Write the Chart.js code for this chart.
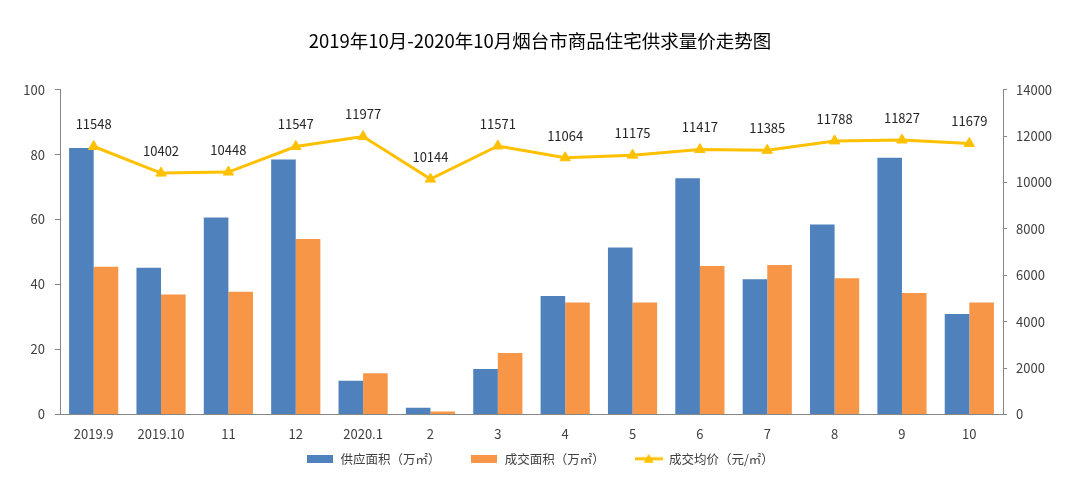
<!DOCTYPE html>
<html><head><meta charset="utf-8">
<script src="https://cdn.jsdelivr.net/npm/chart.js@4"></script>
<style>html,body{margin:0;padding:0;background:#fff}</style>
</head>
<body>
<canvas id="c" width="1080" height="491"></canvas>
<script>
const categories = ['2019.9','2019.10','11','12','2020.1','2','3','4','5','6','7','8','9','10'];
const supplyArea = [82.0,45.2,60.6,78.5,10.4,2.1,14.0,36.5,51.4,72.7,41.6,58.5,79.0,30.9];
const dealArea   = [45.5,36.9,37.8,54.0,12.7,0.9,18.9,34.5,34.5,45.7,46.0,41.9,37.4,34.5];
const avgPrice   = [11548,10402,10448,11547,11977,10144,11571,11064,11175,11417,11385,11788,11827,11679];
const seriesNames = ['供应面积（万㎡）','成交面积（万㎡）','成交均价（元/㎡）'];
const titleText = '2019年10月-2020年10月烟台市商品住宅供求量价走势图';

const FONT = '"Noto Sans CJK SC", "Noto Sans", sans-serif';
const BLUE = '#4F81BD', ORANGE = '#F79646', GOLD = '#FFC000', AXIS = '#868686', TXT = '#404040';

function rectImg(color){
  const c = document.createElement('canvas'); c.width = 26; c.height = 8;
  const x = c.getContext('2d'); x.fillStyle = color; x.fillRect(0,0,26,8); return c;
}
function lineImg(color){
  const c = document.createElement('canvas'); c.width = 28; c.height = 12;
  const x = c.getContext('2d');
  x.strokeStyle = color; x.lineWidth = 3; x.beginPath(); x.moveTo(0,6); x.lineTo(28,6); x.stroke();
  x.fillStyle = color; x.beginPath(); x.moveTo(14,1); x.lineTo(19,10); x.lineTo(9,10); x.closePath(); x.fill();
  return c;
}
const legendImgs = [rectImg(BLUE), rectImg(ORANGE), lineImg(GOLD)];

const dataLabels = {
  id: 'dataLabels',
  afterDatasetsDraw(chart){
    const meta = chart.getDatasetMeta(2);
    const ctx = chart.ctx;
    ctx.save();
    ctx.font = '13px ' + FONT;
    ctx.fillStyle = '#262626';
    ctx.textAlign = 'center';
    ctx.textBaseline = 'middle';
    meta.data.forEach((pt, i) => {
      ctx.fillText(String(avgPrice[i]), pt.x, pt.y - 22);
    });
    ctx.restore();
  }
};

new Chart(document.getElementById('c'), {
  type: 'bar',
  data: {
    labels: categories,
    datasets: [
      {label: seriesNames[0], data: supplyArea, backgroundColor: BLUE, yAxisID: 'y', order: 2,
       categoryPercentage: 0.73, barPercentage: 1.0},
      {label: seriesNames[1], data: dealArea, backgroundColor: ORANGE, yAxisID: 'y', order: 2,
       categoryPercentage: 0.73, barPercentage: 1.0},
      {type: 'line', label: seriesNames[2], data: avgPrice, yAxisID: 'y1', order: 0,
       borderColor: GOLD, backgroundColor: GOLD, borderWidth: 3, pointStyle: 'triangle',
       pointRadius: 6, pointHoverRadius: 6, pointBorderWidth: 1, pointBorderColor: GOLD, tension: 0}
    ]
  },
  options: {
    responsive: false,
    animation: false,
    layout: {padding: {left: 0, right: 0, top: 0, bottom: 16}},
    plugins: {
      title: {display: true, text: titleText, color: '#000',
              font: {family: FONT, size: 18.5, weight: 'normal'}, padding: {top: 30, bottom: 37.4}},
      legend: {
        position: 'bottom',
        labels: {
          usePointStyle: true, pointStyleWidth: 28, padding: 30, color: TXT,
          font: {family: FONT, size: 12.5},
          generateLabels(chart){
            return seriesNames.map((n, i) => ({
              text: n, pointStyle: legendImgs[i], fillStyle: 'transparent', strokeStyle: 'transparent',
              lineWidth: 0, datasetIndex: i, hidden: false, fontColor: TXT
            }));
          }
        }
      },
      tooltip: {enabled: false}
    },
    scales: {
      x: {
        grid: {display: false},
        border: {display: true, color: AXIS, width: 1},
        ticks: {color: TXT, font: {family: FONT, size: 13}, padding: 4, maxRotation: 0, autoSkip: false},
        afterFit(s){ s.height = 8; s._computeLabelArea = () => undefined; }
      },
      y: {
        position: 'left', min: 0, max: 100,
        ticks: {stepSize: 20, color: TXT, font: {family: FONT, size: 13}, padding: 10},
        grid: {drawOnChartArea: false, tickLength: 5, color: AXIS},
        border: {display: true, color: AXIS},
        afterFit(s){ s.width = 60; }
      },
      y1: {
        position: 'right', min: 0, max: 14000,
        ticks: {stepSize: 2000, color: TXT, font: {family: FONT, size: 13}, padding: 9,
                format: {useGrouping: false}},
        grid: {drawOnChartArea: false, tickLength: 4, color: AXIS},
        border: {display: true, color: AXIS},
        afterFit(s){ s.width = 77; }
      }
    }
  },
  plugins: [dataLabels]
});
</script>
</body></html>
